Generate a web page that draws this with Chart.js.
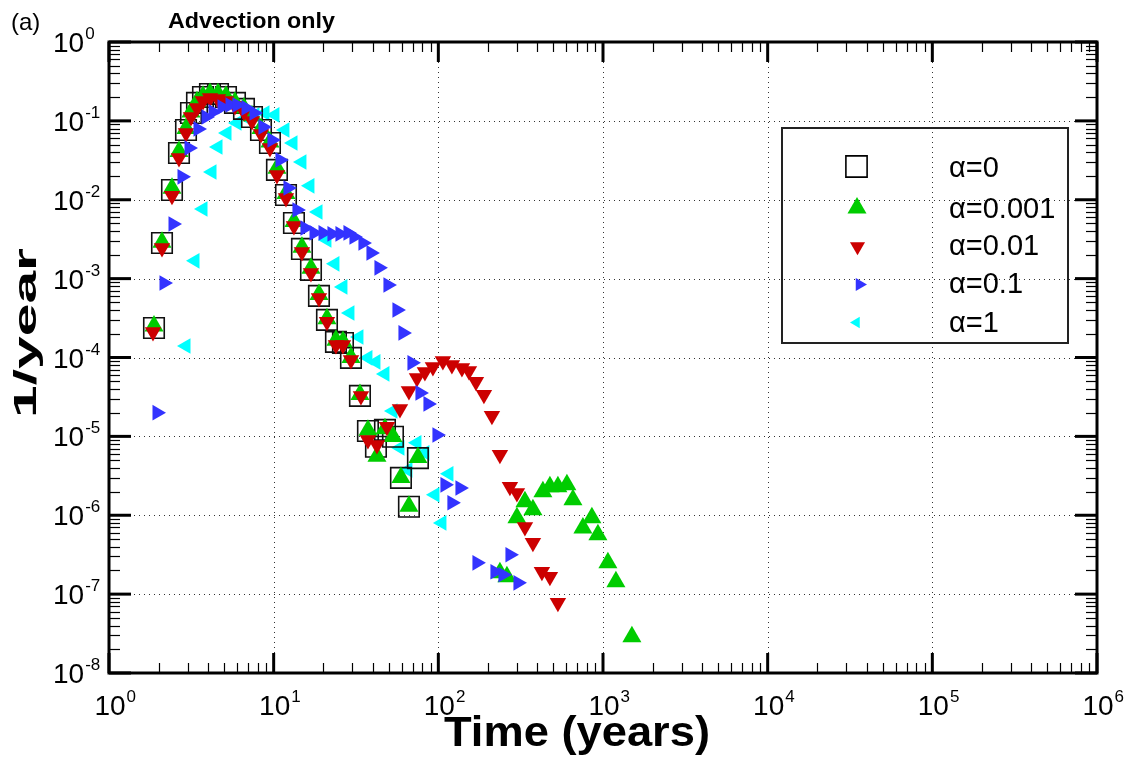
<!DOCTYPE html>
<html>
<head>
<meta charset="utf-8">
<script src="https://cdn.jsdelivr.net/npm/chart.js@4.4.1/dist/chart.umd.min.js"></script>
<style>
  html, body { margin: 0; padding: 0; background: #fff; }
  #wrap { width: 1125px; height: 758px; }
</style>
</head>
<body>
<div id="wrap"><canvas id="chart" width="1125" height="758"></canvas></div>
<script>
// Breakthrough curves, advection only: flux (1/year) against time (years)
const seriesNames = ['α=0', 'α=0.001', 'α=0.01', 'α=0.1', 'α=1'];

const timeA0 = [1.876, 2.098, 2.413, 2.661, 2.935, 3.147, 3.422, 3.722, 4.104, 4.590, 5.133, 5.821, 6.602, 7.383,
  8.374, 9.495, 10.47, 11.88, 13.28, 14.85, 16.85, 18.84, 21.07, 23.89, 26.35, 29.47, 33.42, 37.37, 41.80, 47.41,
  53.02, 59.29, 66.30, 75.18];
const fluxA0 = [2.37e-4, 2.83e-3, 1.33e-2, 3.92e-2, 7.67e-2, 0.126, 0.169, 0.201, 0.219, 0.219, 0.201, 0.169, 0.142, 0.112,
  7.67e-2, 5.25e-2, 2.39e-2, 1.15e-2, 5.08e-3, 2.38e-3, 1.29e-3, 6.04e-4, 3.0e-4, 1.58e-4, 1.53e-4, 9.9e-5, 3.26e-5,
  1.17e-5, 7.4e-6, 1.21e-5, 9.9e-6, 2.98e-6, 1.28e-6, 5.3e-6];

const timeA1 = [1.876, 2.098, 2.413, 2.661, 2.935, 3.147, 3.422, 3.722, 4.104, 4.590, 5.133, 5.821, 6.602, 7.383,
  8.374, 9.495, 10.47, 11.88, 13.28, 14.85, 16.85, 18.84, 21.07, 23.89, 26.35, 29.47, 33.42, 37.37, 42.39, 47.41,
  53.02, 59.29, 66.30, 75.18, 236.6, 260.9, 300.1, 335.7, 375.4, 431.6, 476.0, 532.3, 603.7, 656.7, 755.1, 856.0,
  931.1, 1071, 1198, 1498];
const fluxA1 = [2.5e-4, 2.9e-3, 1.4e-2, 4.1e-2, 8.0e-2, 0.130, 0.175, 0.205, 0.222, 0.220, 0.205, 0.172, 0.146, 0.116,
  8.0e-2, 5.4e-2, 2.5e-2, 1.2e-2, 5.3e-3, 2.5e-3, 1.35e-3, 6.3e-4, 3.1e-4, 1.65e-4, 1.6e-4, 1.0e-4, 3.4e-5, 1.2e-5,
  5.6e-6, 1.25e-5, 1.0e-5, 3.0e-6, 1.3e-6, 5.4e-6, 1.86e-7, 1.66e-7, 9.3e-7, 1.48e-6, 1.17e-6, 1.98e-6, 2.29e-6,
  2.29e-6, 2.43e-6, 1.57e-6, 6.9e-7, 9.3e-7, 5.65e-7, 2.49e-7, 1.43e-7, 2.88e-8];

const timeA2 = [1.850, 2.098, 2.413, 2.661, 2.935, 3.147, 3.422, 3.722, 4.104, 4.590, 5.133, 5.821, 6.602, 7.383,
  8.374, 9.495, 10.47, 11.88, 13.28, 14.85, 16.85, 18.84, 21.07, 23.89, 26.35, 29.47, 33.89, 37.37, 42.39, 48.75,
  58.47, 66.30, 74.17, 82.90, 92.73, 106.6, 120.9, 139.1, 153.4, 169.2, 189.2, 211.6, 236.6, 272.1, 300.1, 335.7,
  375.4, 425.6, 476.0, 532.3];
const fluxA2 = [2.11e-4, 2.45e-3, 1.12e-2, 3.39e-2, 7.03e-2, 0.112, 0.146, 0.179, 0.195, 0.190, 0.179, 0.154, 0.130,
  0.0997, 0.0682, 0.0454, 0.0206, 0.0105, 4.66e-3, 2.18e-3, 1.18e-3, 5.7e-4, 2.83e-4, 1.44e-4, 1.44e-4, 9.3e-5,
  3.26e-5, 9.0e-6, 7.8e-6, 1.32e-5, 2.23e-5, 3.77e-5, 5.5e-5, 6.57e-5, 7.6e-5, 9.06e-5, 8.05e-5, 7.38e-5, 6.76e-5,
  4.91e-5, 3.36e-5, 1.82e-5, 5.83e-6, 2.29e-6, 1.92e-6, 7.1e-7, 4.47e-7, 1.92e-7, 1.66e-7, 7.8e-8];

const timeA3 = [1.956, 2.158, 2.447, 2.775, 3.060, 3.470, 3.881, 4.280, 4.854, 5.428, 5.987, 6.789, 7.593, 8.610,
  9.765, 10.92, 12.21, 13.85, 15.49, 17.57, 19.93, 22.59, 25.26, 28.26, 30.73, 34.85, 38.97, 43.59, 49.43, 56.07,
  60.97, 69.14, 77.33, 86.47, 98.06, 109.7, 120.9, 135.3, 171.5, 220.7, 246.7, 272.1, 304.3];
const fluxA3 = [2.0e-5, 8.8e-4, 4.93e-3, 1.95e-2, 4.54e-2, 7.89e-2, 0.112, 0.130, 0.150, 0.159, 0.159, 0.146, 0.126,
  0.0837, 0.0573, 0.0319, 0.0141, 7.43e-3, 4.39e-3, 3.8e-3, 3.8e-3, 3.69e-3, 3.69e-3, 3.8e-3, 3.38e-3, 2.83e-3,
  2.12e-3, 1.37e-3, 8.3e-4, 4.01e-4, 2.05e-4, 8.55e-5, 3.56e-5, 2.58e-5, 1.04e-5, 2.43e-6, 1.44e-6, 2.22e-6,
  2.49e-7, 1.92e-7, 1.76e-7, 3.15e-7, 1.39e-7];

const timeA4 = [2.935, 3.328, 3.722, 4.221, 4.590, 5.205, 5.987, 6.885, 7.700, 8.855, 10.18, 11.71, 13.10, 14.85,
  16.61, 18.58, 21.07, 23.56, 26.35, 29.06, 32.96, 37.37, 41.80, 47.41, 53.02, 58.47, 65.38, 74.17, 82.90, 95.37,
  105.2, 116.0];
const fluxA4 = [1.40e-4, 1.68e-3, 7.64e-3, 2.25e-2, 4.67e-2, 7.03e-2, 0.094, 0.109, 0.119, 0.126, 0.119, 0.0767,
  0.0525, 0.0301, 0.0150, 7.0e-3, 3.09e-3, 1.54e-3, 7.85e-4, 3.67e-4, 1.82e-4, 9.9e-5, 8.8e-5, 6.2e-5, 2.1e-5,
  7.15e-6, 3.76e-6, 8.3e-6, 6.18e-6, 1.82e-6, 8.0e-7, 3.35e-6];

const xExponents = [0, 1, 2, 3, 4, 5, 6];
const yExponents = [0, -1, -2, -3, -4, -5, -6, -7, -8];

const FONT = '"Liberation Sans", Arial, Helvetica, sans-serif';
const GREEN = '#00cc00', RED = '#cc0000', BLUE = '#3333ff', CYAN = '#00ffff';

const pts = (xs, ys) => xs.map((x, i) => ({ x, y: ys[i] }));

function seg(ctx, x1, y1, x2, y2) {
  ctx.beginPath();
  ctx.moveTo(x1, y1);
  ctx.lineTo(x2, y2);
  ctx.stroke();
}

// text squeezed or stretched to a given width
function fitText(ctx, txt, x, y, width, font) {
  ctx.font = font;
  const w = ctx.measureText(txt).width;
  ctx.save();
  ctx.translate(x, y);
  ctx.scale(width / w, 1);
  ctx.fillText(txt, 0, 0);
  ctx.restore();
}

// power of ten label: "10" plus a raised exponent
function powLabel(ctx, exp, x, y, align) {
  ctx.font = '28px ' + FONT;
  const base = ctx.measureText('10').width;
  const left = align === 'center' ? x - base / 2 : x;
  ctx.textAlign = 'left';
  ctx.textBaseline = 'alphabetic';
  ctx.fillText('10', left, y);
  ctx.font = '17px ' + FONT;
  ctx.fillText(String(exp), left + base + 1, y - 13);
}

function marker(ctx, style, x, y, r, rot, fill, stroke) {
  ctx.beginPath();
  if (style === 'rect') {
    const h = r * Math.SQRT1_2;
    ctx.rect(x - h, y - h, 2 * h, 2 * h);
  } else {
    let a = rot * Math.PI / 180;
    for (let k = 0; k < 3; k++) {
      const px = x + Math.sin(a) * r, py = y - Math.cos(a) * r;
      k === 0 ? ctx.moveTo(px, py) : ctx.lineTo(px, py);
      a += 2 * Math.PI / 3;
    }
    ctx.closePath();
  }
  if (fill) { ctx.fillStyle = fill; ctx.fill(); }
  if (stroke) { ctx.strokeStyle = stroke; ctx.lineWidth = 1.6; ctx.stroke(); }
}

const framePlugin = {
  id: 'frame',
  beforeDatasetsDraw(chart) {
    const { ctx, chartArea: a, scales: { x, y } } = chart;
    ctx.save();
    ctx.strokeStyle = '#333';
    ctx.lineWidth = 1;
    ctx.setLineDash([1, 4]);
    xExponents.slice(1, -1).forEach(e => {
      const px = Math.round(x.getPixelForValue(Math.pow(10, e))) + 0.5;
      seg(ctx, px, a.top, px, a.bottom);
    });
    yExponents.slice(1, -1).forEach(e => {
      const py = Math.round(y.getPixelForValue(Math.pow(10, e))) + 0.5;
      seg(ctx, a.left, py, a.right, py);
    });
    ctx.restore();
  },
  afterDraw(chart) {
    const { ctx, chartArea: a, scales: { x, y } } = chart;
    ctx.save();
    ctx.strokeStyle = '#000';
    ctx.fillStyle = '#000';

    // minor ticks on all four sides
    ctx.lineWidth = 1.2;
    for (let e = 0; e < 6; e++) {
      for (let m = 2; m <= 9; m++) {
        const px = Math.round(x.getPixelForValue(m * Math.pow(10, e))) + 0.5;
        seg(ctx, px, a.bottom, px, a.bottom - 10);
        seg(ctx, px, a.top, px, a.top + 10);
      }
    }
    for (let e = -8; e < 0; e++) {
      for (let m = 2; m <= 9; m++) {
        const py = Math.round(y.getPixelForValue(m * Math.pow(10, e))) + 0.5;
        seg(ctx, a.left, py, a.left + 11, py);
        seg(ctx, a.right, py, a.right - 11, py);
      }
    }
    // major ticks
    ctx.lineWidth = 3;
    xExponents.forEach(e => {
      const px = x.getPixelForValue(Math.pow(10, e));
      seg(ctx, px, a.bottom, px, a.bottom - 20);
      seg(ctx, px, a.top, px, a.top + 20);
    });
    yExponents.forEach(e => {
      const py = y.getPixelForValue(Math.pow(10, e));
      seg(ctx, a.left, py, a.left + 22, py);
      seg(ctx, a.right, py, a.right - 22, py);
    });
    ctx.strokeRect(a.left, a.top, a.right - a.left, a.bottom - a.top);

    // tick labels
    xExponents.forEach(e => powLabel(ctx, e, x.getPixelForValue(Math.pow(10, e)) + 1, a.bottom + 42, 'center'));
    yExponents.forEach(e => powLabel(ctx, e, 53, y.getPixelForValue(Math.pow(10, e)) + 10, 'left'));

    // axis titles
    ctx.textAlign = 'left';
    ctx.textBaseline = 'alphabetic';
    fitText(ctx, 'Time (years)', 444, 746, 266, 'bold 43px ' + FONT);
    ctx.save();
    ctx.translate(36, 418);
    ctx.rotate(-Math.PI / 2);
    fitText(ctx, '1/year', 0, 0, 170, 'bold 31px ' + FONT);
    ctx.restore();
    ctx.font = '24px ' + FONT;
    ctx.fillText('(a)', 11, 30);
    fitText(ctx, 'Advection only', 168, 28, 167, 'bold 22px ' + FONT);

    // legend box
    ctx.lineWidth = 2;
    ctx.strokeStyle = '#222';
    ctx.strokeRect(782, 128, 286, 215);
    marker(ctx, 'rect', 856.5, 166.5, 15, 0, null, '#000');
    marker(ctx, 'triangle', 857, 208, 11, 0, GREEN);
    marker(ctx, 'triangle', 857.5, 246.5, 8.7, 180, RED);
    marker(ctx, 'triangle', 859.5, 284.5, 7.5, 90, BLUE);
    marker(ctx, 'triangle', 856.5, 322.5, 6.5, 270, CYAN);
    ctx.fillStyle = '#000';
    ctx.font = '29px ' + FONT;
    [167, 207.5, 245, 283, 322].forEach((cy, i) => ctx.fillText(seriesNames[i], 949, cy + 10));
    ctx.restore();
  }
};

new Chart(document.getElementById('chart'), {
  type: 'scatter',
  data: {
    datasets: [
      { label: seriesNames[0], data: pts(timeA0, fluxA0), order: 4, pointStyle: 'rect', pointRadius: 14.5,
        backgroundColor: 'rgba(0,0,0,0)', borderColor: '#111', borderWidth: 1.6 },
      { label: seriesNames[1], data: pts(timeA1, fluxA1), order: 3, pointStyle: 'triangle', pointRadius: 11,
        backgroundColor: GREEN, borderColor: GREEN, borderWidth: 0 },
      { label: seriesNames[2], data: pts(timeA2, fluxA2), order: 2, pointStyle: 'triangle', pointRotation: 180,
        pointRadius: 9.5, backgroundColor: RED, borderColor: RED, borderWidth: 0 },
      { label: seriesNames[3], data: pts(timeA3, fluxA3), order: 1, pointStyle: 'triangle', pointRotation: 90,
        pointRadius: 9, backgroundColor: BLUE, borderColor: BLUE, borderWidth: 0 },
      { label: seriesNames[4], data: pts(timeA4, fluxA4), order: 5, pointStyle: 'triangle', pointRotation: 270,
        pointRadius: 9, backgroundColor: CYAN, borderColor: CYAN, borderWidth: 0 }
    ]
  },
  options: {
    responsive: false,
    animation: false,
    devicePixelRatio: 1,
    layout: { padding: { left: 109, right: 28, top: 42, bottom: 85 } },
    scales: {
      x: { type: 'logarithmic', min: 1, max: 1e6, display: false },
      y: { type: 'logarithmic', min: 1e-8, max: 1, display: false }
    },
    plugins: { legend: { display: false }, tooltip: { enabled: false } }
  },
  plugins: [framePlugin]
});
</script>
</body>
</html>
